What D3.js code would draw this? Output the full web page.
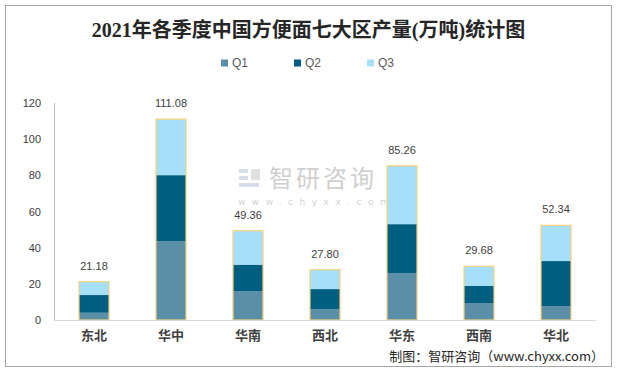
<!DOCTYPE html>
<html><head><meta charset="utf-8">
<script src="https://cdn.jsdelivr.net/npm/d3@7"></script>
<style>html,body{margin:0;padding:0;background:#fff;}svg{display:block;}</style>
</head><body>
<svg id="c" width="617" height="371"></svg>
<script>
const categories = ["东北","华中","华南","西北","华东","西南","华北"];
const seriesNames = ["Q1","Q2","Q3"];
const q1 = [4.0, 43.6, 16.0, 6.1, 26.0, 9.4, 7.7];
const q2 = [9.8, 36.5, 14.6, 11.0, 27.0, 9.4, 24.9];
const q3 = [7.38, 30.98, 18.76, 10.7, 32.26, 10.88, 19.74];
const totals = [21.18, 111.08, 49.36, 27.80, 85.26, 29.68, 52.34];
const yTicks = [0,20,40,60,80,100,120];
const colors = ["#5B8FA8","#005F80","#A6DFF8"];

const svg = d3.select("#c");
svg.append("rect").attr("x",5.5).attr("y",5.5).attr("width",606).attr("height",361)
  .attr("fill","#fff").attr("stroke","#A6A6A6").attr("stroke-width",1);

svg.append("text").attr("x",308.5).attr("y",37).attr("text-anchor","middle")
  .attr("font-family","'Liberation Serif','DejaVu Serif','Noto Sans CJK SC',serif")
  .attr("font-weight","bold").attr("font-size",20).attr("fill","#262626")
  .text("2021年各季度中国方便面七大区产量(万吨)统计图");

// legend
const legX = [221, 294, 367];
seriesNames.forEach((s,i)=>{
  svg.append("rect").attr("x",legX[i]).attr("y",59.5).attr("width",7).attr("height",7).attr("fill",colors[i]);
  svg.append("text").attr("x",legX[i]+11).attr("y",67).attr("font-family","'Liberation Sans',Arial,sans-serif")
    .attr("font-size",12).attr("fill","#595959").text(s);
});

// watermark
const wm = svg.append("g").attr("opacity",0.55);
wm.append("rect").attr("x",239).attr("y",169).attr("width",9).attr("height",4).attr("fill","#b8c4d8");
wm.append("rect").attr("x",239).attr("y",176).attr("width",9).attr("height",4).attr("fill","#b8c4d8");
wm.append("rect").attr("x",239).attr("y",183).attr("width",20).attr("height",4).attr("fill","#b8c4d8");
wm.append("rect").attr("x",251).attr("y",169).attr("width",9).attr("height",11).attr("fill","#c8c8c8");
wm.append("text").attr("x",269).attr("y",187).attr("font-family","'Noto Sans CJK SC',sans-serif")
  .attr("font-size",24).attr("fill","#a8a8a8").attr("letter-spacing",3).text("智研咨询");
wm.append("text").attr("x",238).attr("y",205).attr("font-family","'DejaVu Sans',sans-serif")
  .attr("font-size",9).attr("fill","#b0b0b0").attr("letter-spacing",6.5).text("www.chyxx.com");

const x = d3.scaleBand().domain(categories).range([55.5,594.5]).paddingInner(0.61).paddingOuter(0.305);
const y = d3.scaleLinear().domain([0,120]).range([320,103]);

// y axis labels
const yAxis = d3.axisLeft(y).tickValues(yTicks).tickSize(0).tickPadding(0);
const ya = svg.append("g").attr("transform","translate(41,0)").call(yAxis);
ya.select(".domain").remove();
ya.selectAll("text").attr("font-family","'Liberation Sans',Arial,sans-serif").attr("font-size",11).attr("fill","#404040");
svg.append("line").attr("x1",54.5).attr("x2",54.5).attr("y1",103).attr("y2",320).attr("stroke","#BFBFBF");

// stacked bars
const rows = categories.map((c,i)=>({cat:c,Q1:q1[i],Q2:q2[i],Q3:q3[i]}));
const stack = d3.stack().keys(seriesNames)(rows);
stack.forEach((layer,li)=>{
  svg.append("g").selectAll("rect").data(layer).join("rect")
    .attr("x",d=>x(d.data.cat)).attr("width",x.bandwidth())
    .attr("y",d=>y(d[1])).attr("height",d=>y(d[0])-y(d[1]))
    .attr("fill",colors[li]);
});
// total outline
svg.append("g").selectAll("rect").data(categories).join("rect")
  .attr("x",(d)=>x(d)).attr("width",x.bandwidth())
  .attr("y",(d,i)=>y(totals[i])).attr("height",(d,i)=>y(0)-y(totals[i]))
  .attr("fill","none").attr("stroke","#F7D27E").attr("stroke-width",1.2);

// x axis
const xAxis = d3.axisBottom(x).tickSize(0).tickPadding(11);
const xa = svg.append("g").attr("transform","translate(0,320)").call(xAxis);
xa.select(".domain").remove();
svg.append("line").attr("x1",54).attr("x2",596).attr("y1",320.5).attr("y2",320.5).attr("stroke","#D9D9D9").attr("stroke-width",1.2);
xa.selectAll("text").attr("font-family","'Noto Sans CJK SC',sans-serif").attr("font-size",13)
  .attr("font-weight","bold").attr("fill","#404040");

// total labels
svg.append("g").selectAll("text").data(categories).join("text")
  .attr("x",d=>x(d)+x.bandwidth()/2).attr("y",(d,i)=>y(totals[i])-12)
  .attr("text-anchor","middle").attr("font-family","'Liberation Sans',Arial,sans-serif")
  .attr("font-size",11).attr("fill","#404040").text((d,i)=>totals[i].toFixed(2));

svg.append("text").attr("x",604).attr("y",361).attr("text-anchor","end")
  .attr("font-family","'Noto Sans CJK SC',sans-serif").attr("font-size",13).attr("fill","#262626")
  .text("制图：智研咨询（www.chyxx.com）");
</script>
</body></html>
